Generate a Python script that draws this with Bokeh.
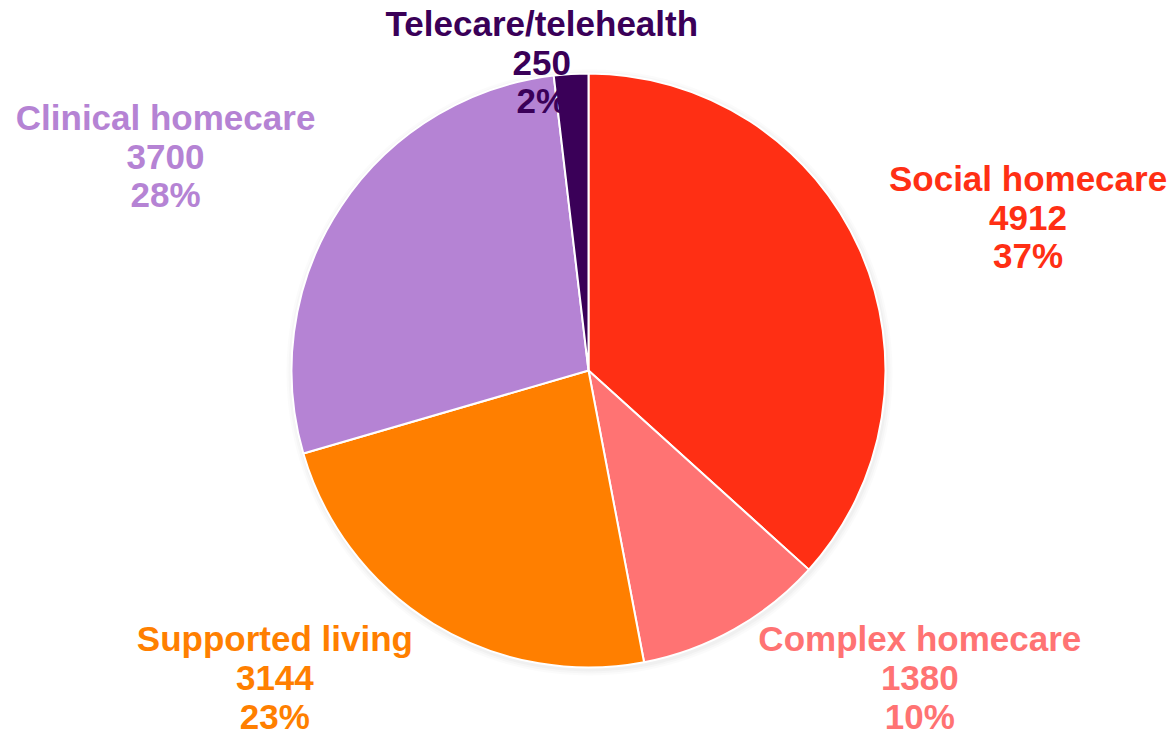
import math
from bokeh.plotting import figure
from bokeh.models import ColumnDataSource, Range1d
from bokeh.core.properties import value
from bokeh.embed import file_html
from bokeh.resources import INLINE

# ---- data ----
categories = ["Social homecare", "Complex homecare", "Supported living", "Clinical homecare", "Telecare/telehealth"]
counts = [4912, 1380, 3144, 3700, 250]
colors = ["#FF2F14", "#FF7373", "#FF7F00", "#B583D4", "#3A0058"]

# ---- layout ----
W, H = 1174, 739
cx_pix, cy_pix = 588, 370      # pie centre in plot pixels (from top-left)
R = 297

total = sum(counts)
starts, ends, mids = [], [], []
acc = 0.0
for c in counts:
    f0 = acc / total
    acc += c
    f1 = acc / total
    starts.append(math.pi / 2 - 2 * math.pi * f0)
    ends.append(math.pi / 2 - 2 * math.pi * f1)
    mids.append(2 * math.pi * (f0 + f1) / 2)

labels = [f"{cat}\n{cnt}\n{round(100 * cnt / total)}%" for cat, cnt in zip(categories, counts)]

# label placement: along the mid-angle, outside the pie, then shifted for text width
lr = R + 22
dx = [148, 175, -147, -157, -28]
dy = [24, -29, -35, 38, -10]
lx = [math.sin(m) * lr + o for m, o in zip(mids, dx)]
ly = [math.cos(m) * lr + o for m, o in zip(mids, dy)]

src = ColumnDataSource(dict(start=starts, end=ends, color=colors))
lsrc = ColumnDataSource(dict(x=lx, y=ly, text=labels, color=colors))

p = figure(width=W, height=H, output_backend="svg", toolbar_location=None,
           x_range=Range1d(-cx_pix, W - cx_pix), y_range=Range1d(-(H - cy_pix), cy_pix),
           min_border=0)
p.axis.visible = False
p.grid.visible = False
p.outline_line_color = None
p.background_fill_color = "white"

# soft shadow
for k, a in [(6, 0.03), (4, 0.04), (2, 0.05)]:
    p.circle(x=1, y=-2, radius=R + k, fill_color="#888888", fill_alpha=a, line_color=None)

p.wedge(x=0, y=0, radius=R, start_angle="start", end_angle="end", direction="clock",
        fill_color="color", line_color="white", line_width=2, source=src)

p.text(x="x", y="y", text="text", text_color="color", anchor="center",
       text_align="center", text_font=value("Liberation Sans"), text_font_style="bold",
       text_font_size="35px", text_line_height=0.99, source=lsrc)

open("out.html", "w").write(file_html(p, INLINE))
